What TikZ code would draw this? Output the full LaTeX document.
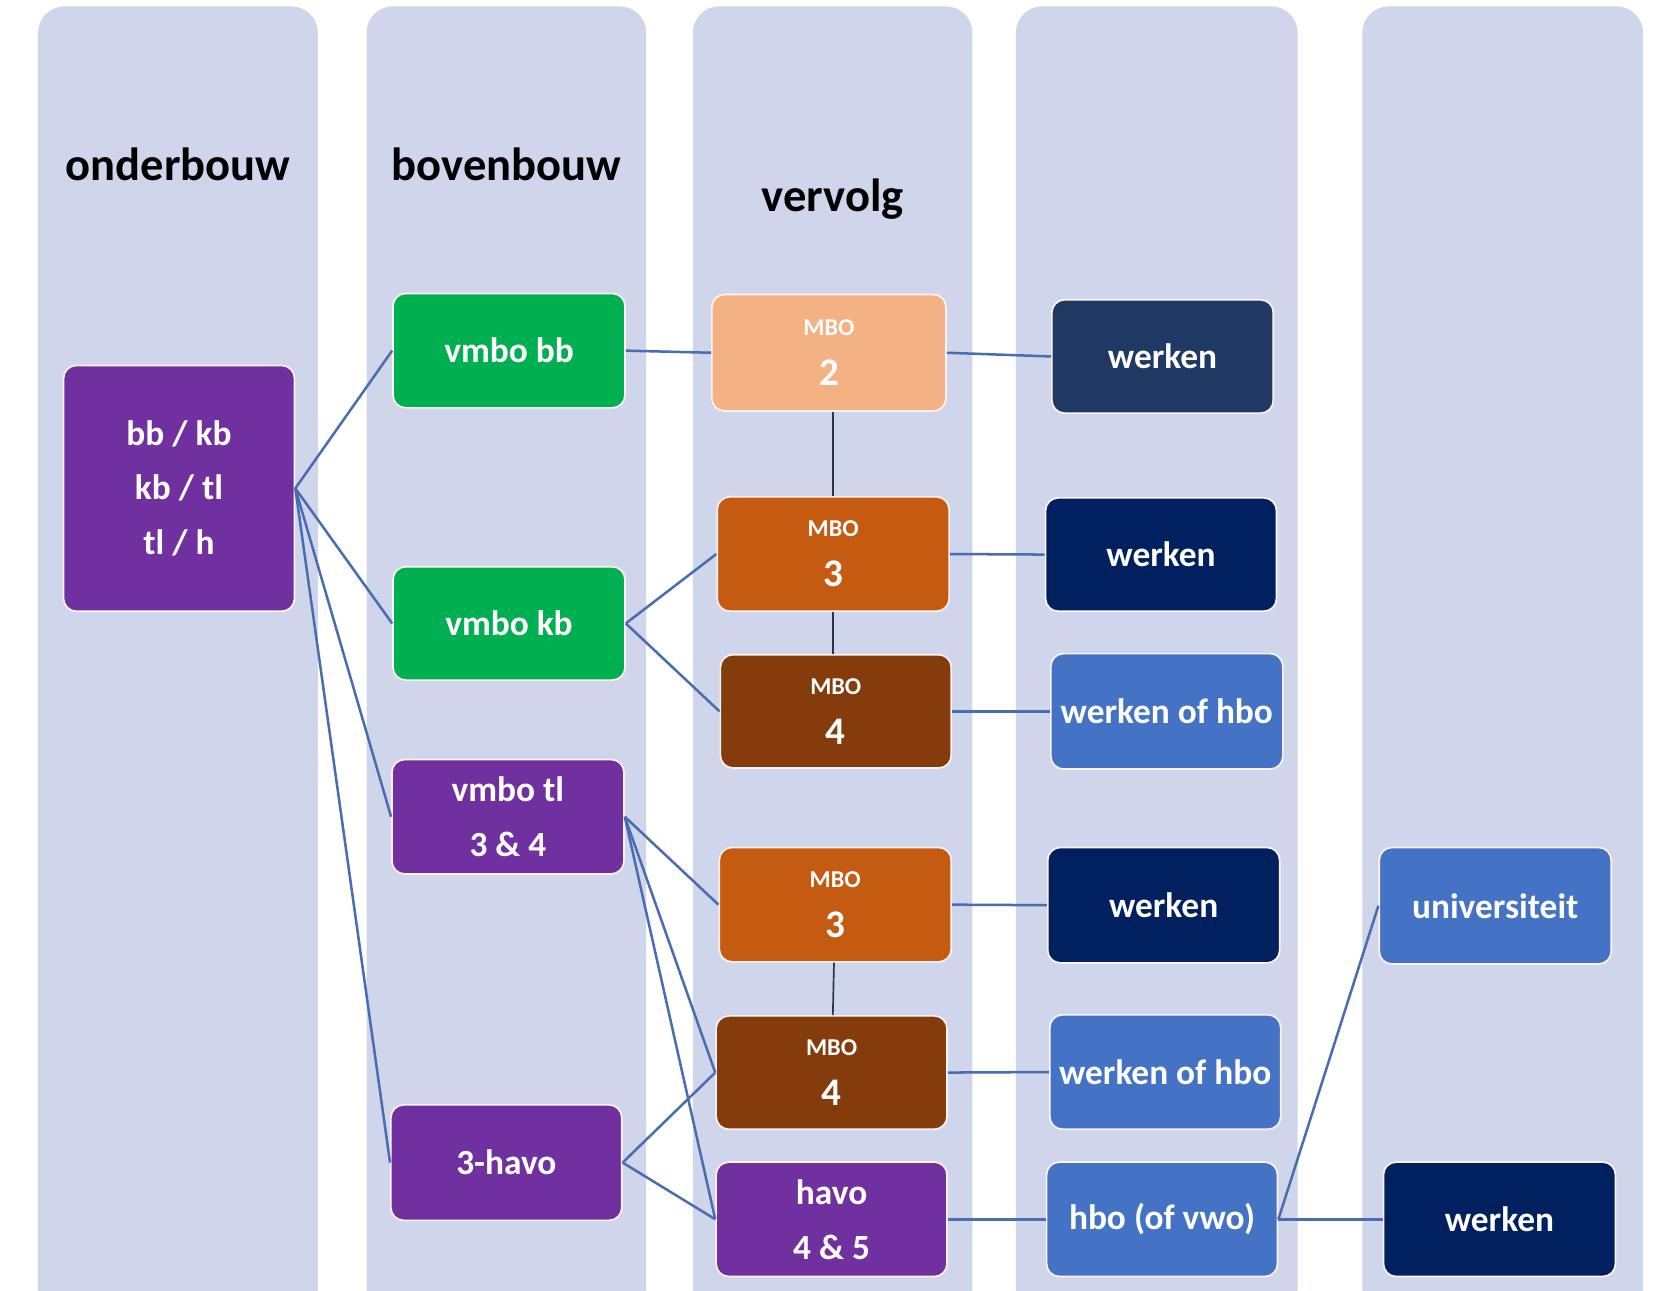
\documentclass[tikz,border=0pt]{standalone}
\usepackage{fontspec}
\setmainfont{Carlito}
\definecolor{colbg}{HTML}{CFD5EA}
\definecolor{cpurple}{HTML}{7030A0}
\definecolor{cgreen}{HTML}{00B050}
\definecolor{clorange}{HTML}{F4B183}
\definecolor{corange}{HTML}{C55A11}
\definecolor{cbrown}{HTML}{843C0C}
\definecolor{cnavy}{HTML}{002060}
\definecolor{cnavytwo}{HTML}{203864}
\definecolor{cblue}{HTML}{4472C4}
\definecolor{linkblue}{HTML}{4A6DB0}
\definecolor{vdark}{HTML}{2A3550}
\newcommand\mbotext[1]{{\fontsize{13}{13}\selectfont MBO}\\{\fontsize{21}{21}\selectfont #1}}
\begin{document}
\begin{tikzpicture}[x=0.02cm,y=-0.02cm,
  col/.style={fill=colbg, rounded corners=0.5cm},
  box/.style={rounded corners=0.24cm, draw=white!80!pink, line width=0.9pt, text=white,
    font=\fontsize{19}{29.5}\selectfont\bfseries, align=center, inner sep=0pt},
  mbobox/.style={box, font=\fontsize{19}{27}\selectfont\bfseries},
  sz/.style 2 args={minimum width=#1*0.02cm, minimum height=#2*0.02cm},
  link/.style={draw=linkblue, line width=1.35pt},
  vlink/.style={draw=vdark, line width=0.9pt},
  head/.style={font=\fontsize{25}{30}\selectfont\bfseries, text=black}]
\useasboundingbox (0,0) rectangle (1568,1218);
\clip (0,0) rectangle (1568,1218);
\fill[white] (0,0) rectangle (1568,1218);
% columns
\fill[col] (36,6) rectangle (300,1270);
\fill[col] (346,6) rectangle (610,1270);
\fill[col] (654,6) rectangle (918,1270);
\fill[col] (959,6) rectangle (1225,1270);
\fill[col] (1286,6) rectangle (1551,1270);
% headings
\node[head] (h1) at (168,155) {onderbouw};
\node[head] (h2) at (478,155) {bovenbouw};
\node[head] (h3) at (786,188) {vervolg};
% boxes
\node[box, fill=cpurple, sz={218}{232}] (A) at (169,461) {bb / kb\\kb / tl\\tl / h};
\node[box, fill=cgreen, sz={219}{108}] (B) at (480.5,331) {vmbo bb};
\node[box, fill=cgreen, sz={219}{107}] (C) at (480.5,588.5) {vmbo kb};
\node[box, fill=cpurple, sz={219}{108}] (D) at (479.5,771) {vmbo tl\\3 \& 4};
\node[box, fill=cpurple, sz={218}{109}] (E) at (478,1097.5) {3-havo};
\node[mbobox, fill=clorange, sz={221}{110}] (F) at (782.5,333) {\mbotext{2}};
\node[mbobox, fill=corange, sz={219}{108}] (G) at (786.5,523) {\mbotext{3}};
\node[mbobox, fill=cbrown, sz={218}{107}] (H) at (789,671.5) {\mbotext{4}};
\node[mbobox, fill=corange, sz={219}{108}] (I) at (788.5,854) {\mbotext{3}};
\node[mbobox, fill=cbrown, sz={218}{107}] (J) at (785,1012.5) {\mbotext{4}};
\node[box, fill=cpurple, sz={218}{108}] (K) at (785,1151) {havo\\4 \& 5};
\node[box, fill=cnavytwo, sz={209}{107}] (L) at (1097.5,336.5) {werken};
\node[box, fill=cnavy, sz={218}{107}] (M) at (1096,523.5) {werken};
\node[box, fill=cblue, sz={219}{109}] (N) at (1101.5,671.5) {werken of hbo};
\node[box, fill=cnavy, sz={219}{109}] (O) at (1098.5,854.5) {werken};
\node[box, fill=cblue, sz={218}{108}] (P) at (1100,1012) {werken of hbo};
\node[box, fill=cblue, sz={218}{108}] (Q) at (1097,1151) {hbo (of vwo)};
\node[box, fill=cblue, sz={219}{110}] (R) at (1411.5,855) {universiteit};
\node[box, fill=cnavy, sz={219}{108}] (S) at (1415.5,1151) {werken};
% connectors
\draw[link] (A.east) -- (B.west);
\draw[link] (A.east) -- (C.west);
\draw[link] (A.east) -- (D.west);
\draw[link] (A.east) -- (E.west);
\draw[link] (B.east) -- (F.west);
\draw[link] (F.east) -- (L.west);
\draw[vlink] (F.south -| G.north) -- (G.north);
\draw[vlink] (G.south) -- (G.south |- H.north);
\draw[link] (C.east) -- (G.west);
\draw[link] (C.east) -- (H.west);
\draw[link] (G.east) -- (M.west);
\draw[link] (H.east) -- (N.west);
\draw[link] (D.east) -- (I.west);
\draw[link] (D.east) -- (J.west);
\draw[link] (D.east) -- (K.west);
\draw[vlink] (I) -- (J);
\draw[link] (I.east) -- (O.west);
\draw[link] (J.east) -- (P.west);
\draw[link] (E.east) -- (J.west);
\draw[link] (E.east) -- (K.west);
\draw[link] (K.east) -- (Q.west);
\draw[link] (Q.east) -- (R.west);
\draw[link] (Q.east) -- (S.west);
\end{tikzpicture}
\end{document}
